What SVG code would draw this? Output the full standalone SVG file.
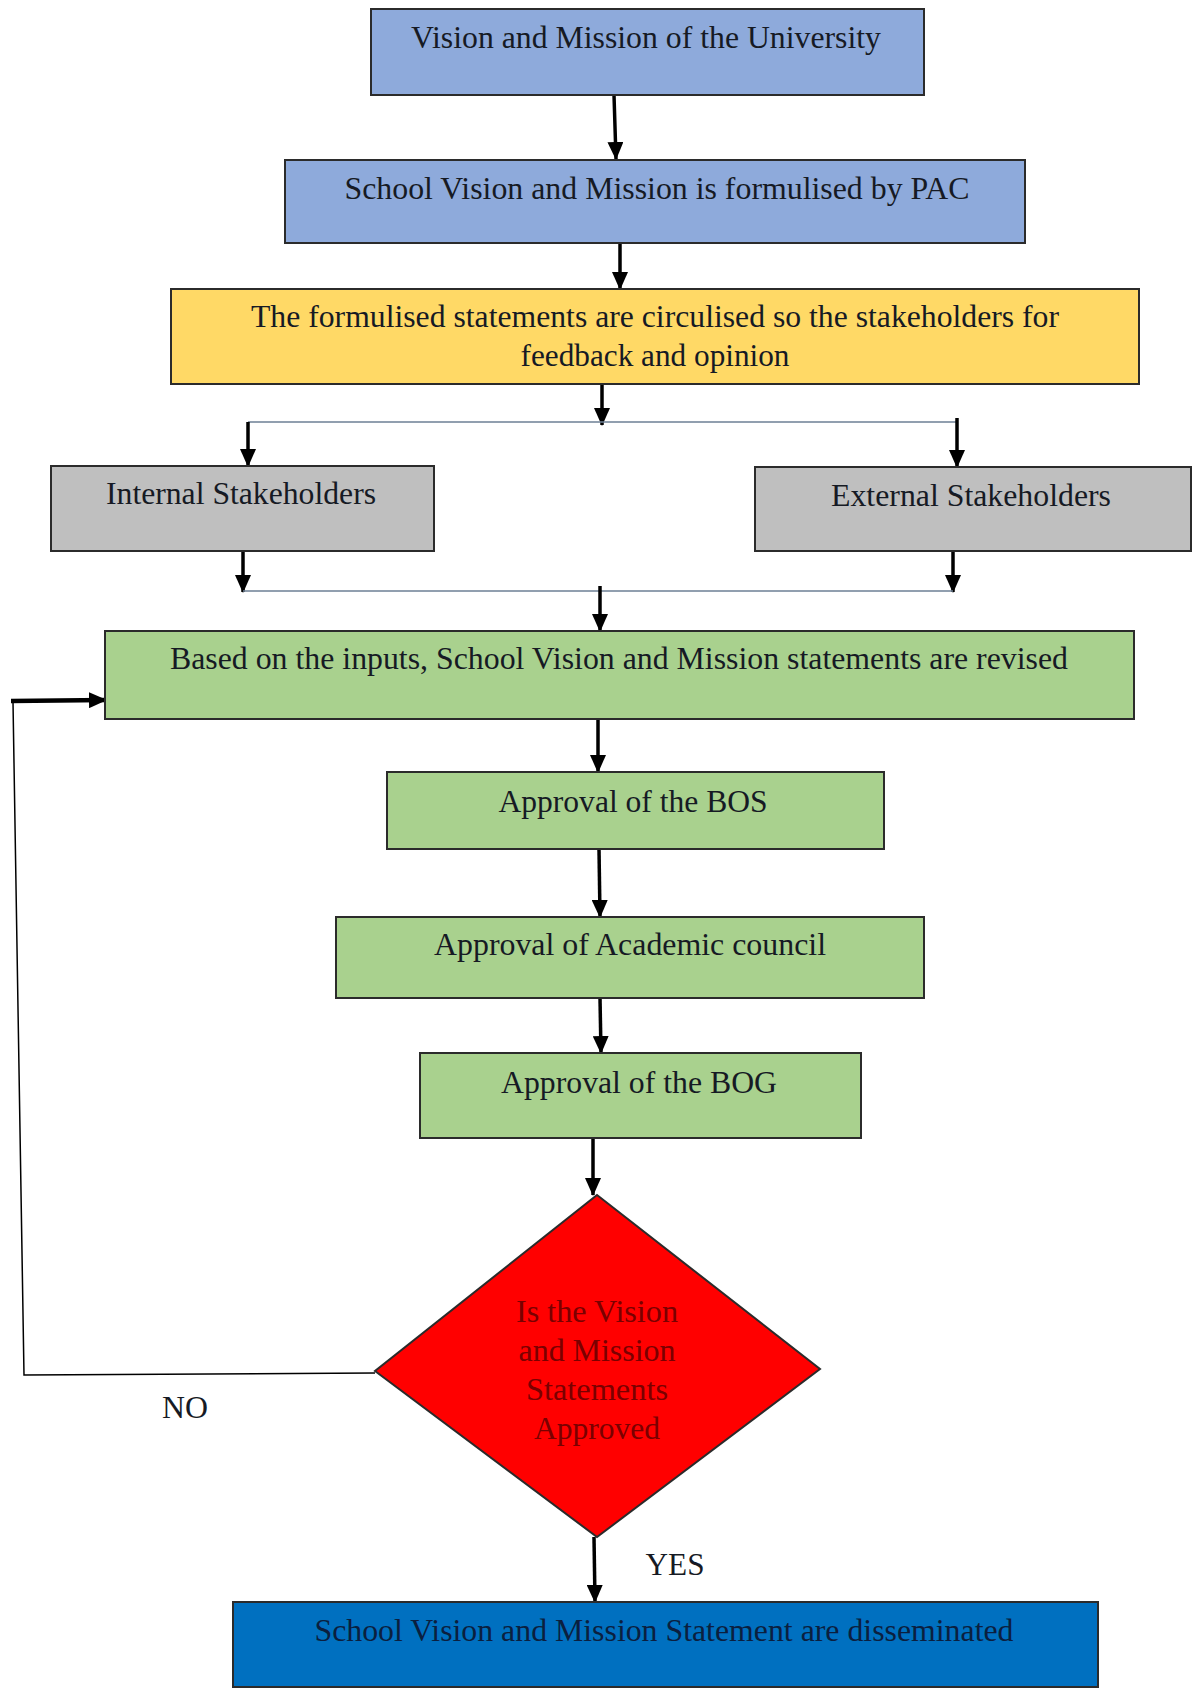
<svg xmlns="http://www.w3.org/2000/svg" width="1192" height="1697" viewBox="0 0 1192 1697">
  <defs>
    <marker id="head" markerWidth="18" markerHeight="16" refX="17" refY="8" orient="auto" markerUnits="userSpaceOnUse" viewBox="0 0 18 16">
      <path d="M0,0 L18,8 L0,16 z" fill="#000"/>
    </marker>
    <style>
      .box { stroke: #2b2b2b; stroke-width: 2; }
      .blue { fill: #8eaadb; }
      .yellow { fill: #ffd966; }
      .grey { fill: #bfbfbf; }
      .green { fill: #a9d18e; }
      .red { fill: #ff0000; }
      .deep { fill: #0070c0; }
      .lbl { font-family: "Liberation Serif", "Times New Roman", serif; font-size: 32px; fill: #161a24; text-anchor: middle; }
      .dk { fill: #7a0000; }
      .nv { fill: #0b1f3f; }
      .arrow { stroke: #000; stroke-width: 3.5; fill: none; marker-end: url(#head); }
      .thin { stroke: #6d7f95; stroke-width: 1.5; fill: none; }
      .loop { stroke: #000; stroke-width: 1.5; fill: none; }
    </style>
  </defs>
  <rect width="1192" height="1697" fill="#ffffff"/>

  <g id="connectors">
    <line class="arrow" x1="614" y1="95" x2="616" y2="159"/>
    <line class="arrow" x1="620" y1="243" x2="620" y2="289"/>
    <line class="arrow" x1="602" y1="384" x2="602" y2="425"/>
    <polyline class="thin" points="248,422 957,422"/>
    <line class="arrow" x1="248" y1="422" x2="248" y2="466"/>
    <line class="arrow" x1="957" y1="418" x2="957" y2="467"/>
    <line class="arrow" x1="243" y1="549" x2="243" y2="592"/>
    <line class="arrow" x1="953" y1="549" x2="953" y2="592"/>
    <polyline class="thin" points="243,591 953,591"/>
    <line class="arrow" x1="600" y1="586" x2="600" y2="631"/>
    <line class="arrow" x1="598" y1="719" x2="598" y2="772"/>
    <line class="arrow" x1="599" y1="849" x2="600" y2="917"/>
    <line class="arrow" x1="600" y1="998" x2="601" y2="1053"/>
    <line class="arrow" x1="593" y1="1138" x2="593" y2="1195"/>
    <polyline class="loop" points="375,1373 24,1375 13,702"/>
    <line class="arrow" style="stroke-width:4.5" x1="11" y1="701" x2="106" y2="700"/>
    <line class="arrow" x1="594" y1="1537" x2="595" y2="1602"/>
  </g>

  <g id="n1">
    <rect class="box blue" x="371" y="9" width="553" height="86"/>
    <text class="lbl" x="646" y="48" textLength="470" lengthAdjust="spacingAndGlyphs">Vision and Mission of the University</text>
  </g>
  <g id="n2">
    <rect class="box blue" x="285" y="160" width="740" height="83"/>
    <text class="lbl" x="657" y="199" textLength="625" lengthAdjust="spacingAndGlyphs">School Vision and Mission is formulised by PAC</text>
  </g>
  <g id="n3">
    <rect class="box yellow" x="171" y="289" width="968" height="95"/>
    <text class="lbl" x="655" y="327" textLength="808" lengthAdjust="spacingAndGlyphs">The formulised statements are circulised so the stakeholders for</text>
    <text class="lbl" x="655" y="366" textLength="269" lengthAdjust="spacingAndGlyphs">feedback and opinion</text>
  </g>
  <g id="n4">
    <rect class="box grey" x="51" y="466" width="383" height="85"/>
    <text class="lbl" x="241" y="504" textLength="270" lengthAdjust="spacingAndGlyphs">Internal Stakeholders</text>
  </g>
  <g id="n5">
    <rect class="box grey" x="755" y="467" width="436" height="84"/>
    <text class="lbl" x="971" y="506" textLength="280" lengthAdjust="spacingAndGlyphs">External Stakeholders</text>
  </g>
  <g id="n6">
    <rect class="box green" x="105" y="631" width="1029" height="88"/>
    <text class="lbl" x="619" y="669" textLength="898" lengthAdjust="spacingAndGlyphs">Based on the inputs, School Vision and Mission statements are revised</text>
  </g>
  <g id="n7">
    <rect class="box green" x="387" y="772" width="497" height="77"/>
    <text class="lbl" x="633" y="812" textLength="269" lengthAdjust="spacingAndGlyphs">Approval of the BOS</text>
  </g>
  <g id="n8">
    <rect class="box green" x="336" y="917" width="588" height="81"/>
    <text class="lbl" x="630" y="955" textLength="392" lengthAdjust="spacingAndGlyphs">Approval of Academic council</text>
  </g>
  <g id="n9">
    <rect class="box green" x="420" y="1053" width="441" height="85"/>
    <text class="lbl" x="639" y="1093" textLength="276" lengthAdjust="spacingAndGlyphs">Approval of the BOG</text>
  </g>
  <g id="n10">
    <polygon class="box red" points="597,1195 820,1369 597,1537 375,1371"/>
    <text class="lbl dk" x="597" y="1322" textLength="162" lengthAdjust="spacingAndGlyphs">Is the Vision</text>
    <text class="lbl dk" x="597" y="1361" textLength="157" lengthAdjust="spacingAndGlyphs">and Mission</text>
    <text class="lbl dk" x="597" y="1400" textLength="142" lengthAdjust="spacingAndGlyphs">Statements</text>
    <text class="lbl dk" x="597" y="1439" textLength="126" lengthAdjust="spacingAndGlyphs">Approved</text>
  </g>
  <g id="n11">
    <rect class="box deep" x="233" y="1602" width="865" height="85"/>
    <text class="lbl nv" x="664" y="1641" textLength="699" lengthAdjust="spacingAndGlyphs">School Vision and Mission Statement are disseminated</text>
  </g>

  <text class="lbl" x="185" y="1418" textLength="46" lengthAdjust="spacingAndGlyphs">NO</text>
  <text class="lbl" x="675" y="1575" textLength="59" lengthAdjust="spacingAndGlyphs">YES</text>
</svg>
